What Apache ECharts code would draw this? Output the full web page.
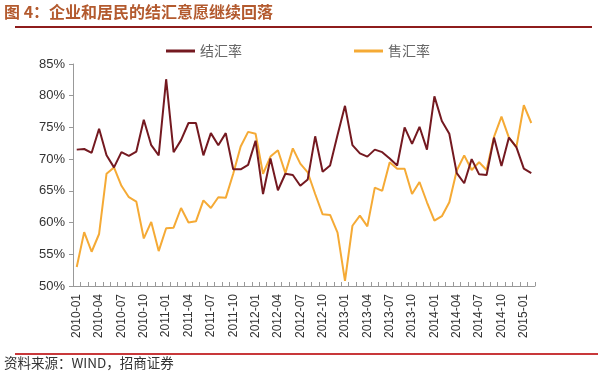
<!DOCTYPE html>
<html><head><meta charset="utf-8">
<script src="https://cdn.jsdelivr.net/npm/echarts@6/dist/echarts.min.js"></script>
<style>html,body{margin:0;padding:0;background:#fff}#c{width:600px;height:374px}</style>
</head><body><div id="c"></div>
<script>
var months = ["2010-01","2010-02","2010-03","2010-04","2010-05","2010-06","2010-07","2010-08","2010-09","2010-10","2010-11","2010-12",
"2011-01","2011-02","2011-03","2011-04","2011-05","2011-06","2011-07","2011-08","2011-09","2011-10","2011-11","2011-12",
"2012-01","2012-02","2012-03","2012-04","2012-05","2012-06","2012-07","2012-08","2012-09","2012-10","2012-11","2012-12",
"2013-01","2013-02","2013-03","2013-04","2013-05","2013-06","2013-07","2013-08","2013-09","2013-10","2013-11","2013-12",
"2014-01","2014-02","2014-03","2014-04","2014-05","2014-06","2014-07","2014-08","2014-09","2014-10","2014-11","2014-12",
"2015-01","2015-02"];
var settleRate = [71.5,71.6,71.0,74.8,70.6,68.7,71.1,70.5,71.2,76.2,72.2,70.6,
82.6,71.1,73.0,75.7,75.7,70.6,74.1,72.2,74.1,68.4,68.4,69.1,
72.9,64.5,70.1,65.1,67.7,67.5,65.8,66.8,73.6,68.0,69.0,73.8,
78.4,72.2,70.9,70.4,71.5,71.1,70.1,69.0,75.0,72.4,75.1,71.5,
79.9,76.0,74.0,67.8,66.2,70.0,67.6,67.5,73.4,68.9,73.4,71.9,
68.5,67.8];
var saleRate = [53.0,58.5,55.4,58.2,67.7,68.7,65.8,64.0,63.3,57.5,60.1,55.5,
59.1,59.2,62.3,60.0,60.2,63.5,62.3,64.0,63.9,67.7,72.0,74.3,
74.0,67.7,70.4,71.4,67.8,71.7,69.3,67.9,64.5,61.3,61.2,58.4,
50.8,59.5,61.1,59.4,65.5,65.0,69.5,68.5,68.5,64.5,66.4,63.2,
60.3,61.0,63.2,68.2,70.6,68.3,69.5,68.3,73.5,76.7,73.4,71.9,
78.5,75.7];
var yTicks = {min:50, max:85, step:5};
var titleText = "图 4：企业和居民的结汇意愿继续回落";
var sourceText = "资料来源：WIND，招商证券";
var seriesNames = ["结汇率","售汇率"];

var font = 'Arial, "Liberation Sans", "Noto Sans CJK SC", sans-serif';
var chart = echarts.init(document.getElementById('c'), null, {renderer:'canvas'});
chart.setOption({
  backgroundColor:'#fff',
  animation:false,
  textStyle:{fontFamily:font},
  grid:{left:73, right:65, top:64, bottom:88},
  legend:{
    data:seriesNames, top:39, left:161, itemGap:112,
    icon:'rect', itemWidth:29, itemHeight:3,
    textStyle:{fontSize:14, color:'#666', fontFamily:'"Noto Sans CJK SC", sans-serif'}
  },
  xAxis:{
    type:'category', data:months, boundaryGap:true,
    axisLine:{lineStyle:{color:'#999', width:1}},
    axisTick:{show:true, inside:true, length:4, interval:0, lineStyle:{color:'#999'}},
    axisLabel:{interval:2, rotate:90, fontSize:12, color:'#333', margin:8, fontFamily:font}
  },
  yAxis:{
    type:'value', min:yTicks.min, max:yTicks.max, interval:yTicks.step,
    splitLine:{show:false},
    axisLine:{show:true, lineStyle:{color:'#999', width:1}},
    axisTick:{show:true, length:4, lineStyle:{color:'#999'}},
    axisLabel:{formatter:'{value}%', fontSize:13, color:'#333', margin:8, fontFamily:font}
  },
  series:[
    {name:seriesNames[0], type:'line', data:settleRate, symbol:'none', lineStyle:{width:2, color:'#741920'}, itemStyle:{color:'#741920'}, z:3},
    {name:seriesNames[1], type:'line', data:saleRate, symbol:'none', lineStyle:{width:2, color:'#f5aa35'}, itemStyle:{color:'#f5aa35'}, z:2}
  ],
  graphic:[
    {type:'text', left:4, top:4, style:{text:titleText, fontSize:16, fontWeight:'bold', fill:'#b35a2e', fontFamily:'"Noto Sans CJK SC", sans-serif'}},
    {type:'line', shape:{x1:15, y1:27, x2:592, y2:27}, style:{stroke:'#8e1c1c', lineWidth:2}},
    {type:'line', shape:{x1:15, y1:354, x2:598, y2:354}, style:{stroke:'#c8383a', lineWidth:2}},
    {type:'text', left:4, top:356, style:{text:sourceText, fontSize:13.5, fill:'#333', fontFamily:'"Noto Sans CJK SC", sans-serif'}}
  ]
});
</script></body></html>
